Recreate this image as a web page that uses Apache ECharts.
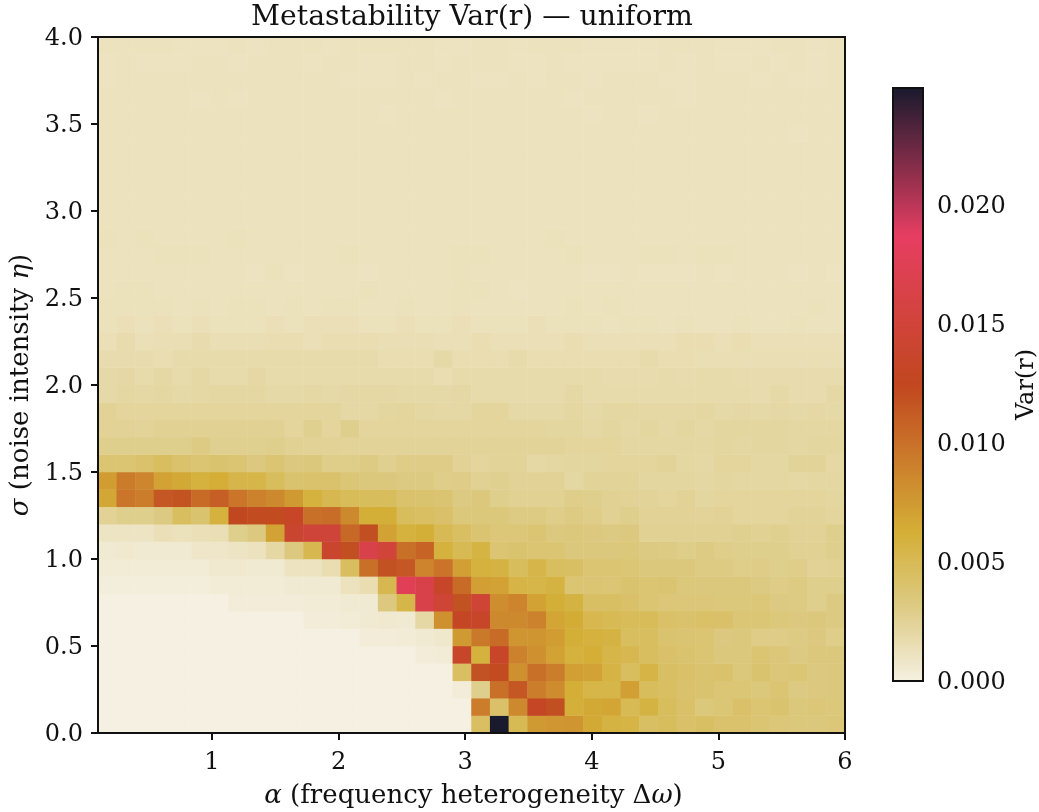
<!DOCTYPE html>
<html>
<head>
<meta charset="utf-8">
<title>Metastability Var(r)</title>
<script src="https://cdn.jsdelivr.net/npm/echarts@6/dist/echarts.min.js"></script>
<style>
  html, body { margin: 0; padding: 0; background: #fff; }
  #chart { width: 1039px; height: 812px; }
</style>
</head>
<body>
<div id="chart"></div>
<script>
// Var(r), in units of 1e-4. row00 is sigma = 0 (bottom), left to right is alpha
const row00 = [0,0,0,0,0,0,0,0,0,0,0,0,0,0,0,0,0,0,0,0, 45,249,50,75,77,78,66,58,56,44,47,42,44,41,41,38,36,35,34,36];
const row01 = [0,0,0,0,0,0,0,0,0,0,0,0,0,0,0,0,0,0,0,0, 92,42,85,130,120,61,66,68,50,58,47,42,35,37,42,38,40,35,36,35];
const row02 = [0,0,0,0,0,0,0,0,0,0,0,0,0,0,0,0,0,0,0,3, 28,100,115,92,83,63,55,55,72,47,45,41,40,37,37,35,38,32,33,34];
const row03 = [0,0,0,0,0,0,0,0,0,0,0,0,0,0,0,0,0,0,0,45, 118,122,80,100,92,72,70,57,46,56,44,42,40,41,35,40,36,37,33,34];
const row04 = [0,0,0,0,0,0,0,0,0,0,0,0,0,0,0,0,0,3,4,135, 60,135,90,80,70,60,63,55,52,46,42,40,38,34,34,38,36,32,34,34];
const row05 = [0,0,0,0,0,0,0,0,0,0,0,0,0,0,3,3,4,5,7,75, 95,103,78,78,73,62,60,58,46,46,40,39,38,33,34,30,30,31,33,29];
const row06 = [0,0,0,0,0,0,0,0,0,0,0,3,3,4,5,6,5,20,80,130, 135,85,85,90,68,64,53,50,48,48,43,41,43,42,37,37,35,33,34,32];
const row07 = [0,0,0,0,0,0,0,3,3,3,3,4,4,5,5,33,55,165,145,118, 145,82,88,70,62,58,44,44,42,38,36,36,36,35,35,36,32,31,28,32];
const row08 = [2,2,2,2,2,2,4,4,4,4,5,5,5,12,16,52,178,165,135,103, 72,70,56,55,58,38,38,37,40,38,39,35,34,34,34,32,30,31,28,28];
const row09 = [4,4,4,4,4,4,6,6,5,5,11,11,16,46,100,118,115,88,98,72, 60,58,47,54,46,44,38,38,37,34,34,34,31,31,29,30,28,29,25,26];
const row10 = [5,6,5,5,5,8,8,10,12,20,33,52,138,120,165,150,100,108,60,50, 57,38,40,38,38,34,34,34,35,32,31,29,31,29,28,28,28,26,26,28];
const row11 = [10,10,10,14,13,14,15,28,33,70,140,148,148,105,120,70,60,62,50,45, 39,36,36,38,33,34,33,32,33,26,26,26,26,26,27,26,27,25,25,28];
const row12 = [25,28,28,32,46,40,60,125,122,122,132,100,102,85,62,62,47,45,42,35, 35,35,31,31,29,31,29,26,28,25,25,25,24,25,23,23,23,24,24,23];
const row13 = [67,97,92,115,117,103,110,97,90,85,75,60,52,48,47,47,41,40,39,32, 34,28,26,26,26,29,28,26,25,24,23,25,22,23,23,23,23,23,23,22];
const row14 = [73,93,87,70,66,60,63,54,55,47,40,41,41,37,34,34,32,32,29,30, 26,27,25,25,25,21,24,24,24,22,22,22,21,22,21,21,21,20,21,21];
const row15 = [38,38,41,46,41,38,40,38,33,38,33,34,29,29,31,27,30,30,30,25, 23,24,24,20,21,22,22,23,23,23,24,21,20,23,23,21,21,24,24,20];
const row16 = [28,28,28,28,28,31,27,27,27,28,26,25,25,24,24,24,24,24,24,24, 24,24,24,24,24,23,23,23,21,21,21,21,21,22,21,22,22,21,22,22];
const row17 = [25,25,24,26,26,26,26,26,26,26,23,27,23,28,23,23,23,23,23,23, 23,23,23,23,22,22,20,22,20,22,20,22,20,22,22,22,22,21,21,21];
const row18 = [25,23,23,23,23,23,23,23,23,23,23,23,23,20,20,22,23,21,20,20, 23,23,19,19,19,21,19,21,21,20,20,20,21,19,20,19,20,19,20,19];
const row19 = [19,21,20,21,19,20,21,21,21,19,19,20,19,20,20,20,19,19,19,20, 18,18,18,18,18,20,18,18,18,18,18,18,18,18,18,17,19,17,17,20];
const row20 = [19,20,18,20,18,20,18,18,20,18,18,18,18,18,18,18,18,18,16,18, 18,18,18,18,18,18,18,17,17,17,18,17,18,18,17,17,17,17,17,17];
const row21 = [17,17,17,16,18,18,18,18,18,18,18,18,18,18,18,16,16,16,19,16, 16,16,18,16,16,16,16,16,16,18,16,16,15,15,15,15,15,15,15,15];
const row22 = [14,17,14,15,15,17,15,15,15,16,16,14,16,16,16,15,15,15,14,14, 16,14,14,14,14,16,14,14,14,14,14,16,16,14,16,14,14,14,14,14];
const row23 = [13,14,13,14,13,14,13,13,13,14,13,14,14,14,13,13,14,13,13,14, 13,13,13,14,13,13,13,12,13,13,12,13,12,12,13,12,12,13,12,12];
const row24 = [13,13,13,13,12,13,12,13,13,12,13,12,13,13,12,12,13,12,12,13, 12,12,12,12,12,13,12,13,12,12,12,12,12,12,12,12,12,12,13,12];
const row25 = [12,13,13,12,12,12,12,12,12,12,12,12,12,12,13,12,12,12,12,13, 13,12,11,12,12,12,12,12,12,12,12,12,12,12,12,12,12,12,12,12];
const row26 = [12,12,12,12,12,12,12,12,11,13,11,12,12,12,11,12,12,12,12,13, 12,12,12,12,12,12,11,11,12,11,11,11,12,11,12,12,12,11,12,11];
const row27 = [12,12,12,13,13,13,12,12,12,12,12,12,12,13,12,12,12,12,12,13, 13,12,12,12,12,13,12,12,12,13,13,12,13,13,12,12,12,12,12,12];
const row28 = [13,12,13,12,12,12,12,13,12,12,12,12,12,12,12,12,12,12,12,12, 12,12,12,12,13,12,12,12,12,12,12,12,12,12,12,12,12,12,12,12];
const row29 = [12,12,12,12,12,12,12,12,12,12,12,12,12,12,12,12,12,12,12,12, 12,12,12,12,12,12,12,12,12,12,12,12,12,12,12,12,12,12,12,12];
const row30 = [12,12,12,12,12,12,12,12,12,12,12,12,12,12,12,12,12,12,12,12, 12,12,12,12,12,12,12,12,12,12,12,12,12,12,12,12,12,12,12,12];
const row31 = [12,12,12,12,12,12,12,12,12,12,12,12,12,12,12,12,12,12,12,12, 12,12,12,12,12,12,12,12,12,12,12,12,12,12,12,12,12,12,12,12];
const row32 = [12,12,12,12,12,12,12,12,12,12,12,12,12,12,12,12,12,12,12,12, 12,12,12,12,12,12,12,12,12,12,12,12,12,12,12,12,12,12,12,12];
const row33 = [12,12,12,12,12,12,12,12,12,12,12,12,12,12,12,12,12,12,12,12, 12,12,12,12,12,12,12,12,12,12,12,12,12,12,12,12,12,12,12,12];
const row34 = [12,12,12,12,12,12,12,12,12,12,12,12,12,12,12,12,12,12,12,12, 12,12,12,12,12,12,12,12,12,12,12,12,12,12,12,12,12,11,12,12];
const row35 = [12,12,12,12,12,12,12,12,12,12,12,12,12,12,12,11,12,12,12,12, 12,12,12,12,12,12,11,12,12,11,12,12,12,12,12,12,12,12,12,12];
const row36 = [12,12,12,12,12,11,12,11,12,12,12,12,12,12,12,12,12,12,11,12, 12,12,12,12,12,11,12,12,12,12,12,11,12,12,12,12,12,12,12,12];
const row37 = [11,12,12,12,12,12,12,12,12,12,12,12,12,11,11,11,12,11,12,12, 11,11,12,11,12,12,11,12,12,12,11,11,12,12,12,11,12,11,11,12];
const row38 = [11,12,11,11,11,12,12,11,12,12,12,11,12,12,11,11,12,12,11,12, 12,12,11,11,12,11,11,11,11,11,12,11,12,11,11,12,11,12,11,12];
const row39 = [12,12,12,12,11,11,11,12,11,12,12,12,11,12,12,12,12,12,11,11, 12,12,11,12,12,12,11,11,11,11,12,12,12,11,11,11,12,12,11,12];

const rows = [row00,row01,row02,row03,row04,row05,row06,row07,row08,row09,
              row10,row11,row12,row13,row14,row15,row16,row17,row18,row19,
              row20,row21,row22,row23,row24,row25,row26,row27,row28,row29,
              row30,row31,row32,row33,row34,row35,row36,row37,row38,row39];

const xTicks = [1, 2, 3, 4, 5, 6];
const yTicks = [0, 0.5, 1, 1.5, 2, 2.5, 3, 3.5, 4];
const barTicks = [0, 0.005, 0.01, 0.015, 0.02];
const cmap = ['#f5f0e1', '#ddcb84', '#d4af37', '#cb7b2b', '#c1471f', '#d44340', '#e63e62', '#802c48', '#1a1a2e'];
const vmax = 0.0249;

const FONT = '"DejaVu Serif"';
const INK = '#111';

const cells = [];
rows.forEach((row, j) => {
  row.forEach((v, i) => {
    cells.push([i, j, v * 1e-4]);
  });
});

// tick labels sit a little high when centred, the top padding pushes them onto the tick
const tickRich = { t: { fontFamily: FONT, fontSize: 24, color: INK, padding: [4, 0, 0, 0] } };

const chart = echarts.init(document.getElementById('chart'));

chart.setOption({
  animation: false,
  backgroundColor: '#fff',
  textStyle: { fontFamily: FONT, color: INK },
  title: {
    text: 'Metastability Var(r) — uniform',
    left: 467, top: -1, textAlign: 'center',
    textStyle: { fontFamily: FONT, fontWeight: 'normal', fontSize: 28.3, color: INK }
  },
  grid: [
    // outerBoundsMode none, otherwise v6 shrinks the grid to fit the axis names
    { left: 98, top: 37, width: 747, height: 696, show: true, z: 10, outerBoundsMode: 'none',
      backgroundColor: 'transparent', borderColor: INK, borderWidth: 2 },
    { left: 893, top: 88, width: 30, height: 593, show: true, z: 10, outerBoundsMode: 'none',
      backgroundColor: 'transparent', borderColor: INK, borderWidth: 2 }
  ],
  xAxis: [
    // cells
    { type: 'category', gridIndex: 0, data: row00.map((_, i) => i), show: false },
    // ticks, alpha runs from 0.1 to 6
    { type: 'value', gridIndex: 0, min: 0.1, max: 6, position: 'bottom',
      name: '{i|α} (frequency heterogeneity Δ{i|ω})', nameLocation: 'middle', nameGap: 50,
      nameTextStyle: { fontFamily: FONT, fontSize: 26, color: INK, padding: [0, 0, 0, 4],
        rich: { i: { fontFamily: FONT, fontStyle: 'italic', fontSize: 26, color: INK } } },
      splitLine: { show: false },
      axisLine: { show: false },
      axisTick: { show: true, length: 7, customValues: xTicks, lineStyle: { color: INK, width: 2 } },
      axisLabel: { show: true, customValues: xTicks, fontFamily: FONT, fontSize: 24, color: INK, margin: 18 } },
    // colorbar
    { type: 'value', gridIndex: 1, show: false, min: 0, max: 1 }
  ],
  yAxis: [
    { type: 'category', gridIndex: 0, data: rows.map((_, j) => j), show: false },
    { type: 'value', gridIndex: 0, min: 0, max: 4, position: 'left',
      name: '{i|σ} (noise intensity {i|η})', nameLocation: 'middle', nameGap: 60,
      nameTextStyle: { fontFamily: FONT, fontSize: 26, color: INK,
        rich: { i: { fontFamily: FONT, fontStyle: 'italic', fontSize: 26, color: INK } } },
      splitLine: { show: false },
      axisLine: { show: false },
      axisTick: { show: true, length: 7, customValues: yTicks, lineStyle: { color: INK, width: 2 } },
      axisLabel: { show: true, customValues: yTicks, margin: 15, rich: tickRich,
        formatter: (v) => '{t|' + v.toFixed(1) + '}' } },
    { type: 'value', gridIndex: 1, min: 0, max: vmax, position: 'right',
      name: 'Var(r)', nameLocation: 'middle', nameGap: 92, nameRotate: 90,
      nameTextStyle: { fontFamily: FONT, fontSize: 24, color: INK },
      splitLine: { show: false },
      axisLine: { show: false },
      axisTick: { show: true, length: 7, customValues: barTicks, lineStyle: { color: INK, width: 2 } },
      axisLabel: { show: true, customValues: barTicks, margin: 14, rich: tickRich,
        formatter: (v) => '{t|' + v.toFixed(3) + '}' } }
  ],
  visualMap: {
    type: 'continuous',
    seriesIndex: 0,
    min: 0, max: vmax,
    left: 893, top: 88,
    itemWidth: 30, itemHeight: 593,
    padding: 0,
    hoverLink: false,
    calculable: false,
    showLabel: false,
    text: null,
    inRange: { color: cmap }
  },
  series: [{
    type: 'heatmap',
    xAxisIndex: 0, yAxisIndex: 0,
    data: cells,
    progressive: 0,
    itemStyle: { borderWidth: 0 },
    emphasis: { disabled: true }
  }]
});
</script>
</body>
</html>
